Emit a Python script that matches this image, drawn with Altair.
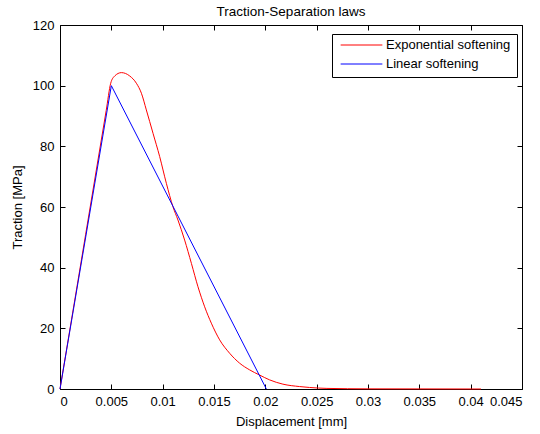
import altair as alt
import pandas as pd

# Data
lin_x = [0.0, 0.005, 0.0201]
lin_y = [0.0, 100.0, 0.0]

exp_x = [0.0, 0.0025, 0.0045, 0.00494, 0.00533, 0.00598, 0.00679, 0.00744, 0.00793,
         0.00841, 0.00906, 0.00971, 0.01036, 0.0110, 0.01149, 0.01214, 0.0128,
         0.01344, 0.01409, 0.01474, 0.01555, 0.01652, 0.0175, 0.01847, 0.01944,
         0.02042, 0.02171, 0.02334, 0.02431, 0.026, 0.03, 0.041]
exp_y = [0.0, 51.0, 91.8, 100.8, 103.2, 104.3, 103.2, 100.8, 97.5, 92.0, 84.3,
         76.6, 67.8, 60.1, 55.7, 49.1, 41.4, 33.7, 27.1, 21.7, 16.2, 11.8, 8.5,
         6.3, 4.6, 3.0, 1.6, 0.8, 0.5, 0.2, 0.05, 0.0]

series_names = ["Exponential softening", "Linear softening"]
series_colors = ["#ff0000", "#0000ff"]
x_ticks = [0, 0.005, 0.01, 0.015, 0.02, 0.025, 0.03, 0.035, 0.04, 0.045]
y_ticks = [0, 20, 40, 60, 80, 100, 120]

df_exp = pd.DataFrame({"x": exp_x, "y": exp_y, "s": series_names[0], "o": range(len(exp_x))})
df_lin = pd.DataFrame({"x": lin_x, "y": lin_y, "s": series_names[1], "o": range(len(lin_x))})

FONT = "Liberation Sans"

xscale = alt.Scale(domain=[0, 0.045], nice=False, zero=False)
yscale = alt.Scale(domain=[0, 120], nice=False, zero=False)
cscale = alt.Scale(domain=series_names, range=series_colors)

x_axis = alt.Axis(values=x_ticks, format="~g", title="Displacement [mm]", grid=False,
                  domain=False, offset=-5, tickSize=5, tickColor="black",
                  labelPadding=6, titlePadding=7, labelColor="black", titleColor="black")
y_axis = alt.Axis(values=y_ticks, title="Traction [MPa]", grid=False, domain=False,
                  offset=-5, tickSize=5, tickColor="black", labelPadding=6,
                  titlePadding=8, labelColor="black", titleColor="black")

legend = alt.Legend(title=None, orient="none", legendX=272, legendY=9,
                    symbolType="stroke", symbolSize=1740, symbolStrokeWidth=1,
                    symbolOffset=2, clipHeight=10, rowPadding=6,
                    strokeColor="black", fillColor="white", padding=6,
                    labelFontSize=13, labelFont=FONT, labelColor="black",
                    labelOffset=3, cornerRadius=0)

red = alt.Chart(df_exp).mark_line(strokeWidth=1, interpolate="monotone").encode(
    x=alt.X("x:Q", scale=xscale, axis=x_axis),
    y=alt.Y("y:Q", scale=yscale, axis=y_axis),
    color=alt.Color("s:N", scale=cscale, legend=legend),
    order="o:Q",
)
blue = alt.Chart(df_lin).mark_line(strokeWidth=1).encode(
    x=alt.X("x:Q", scale=xscale, axis=None),
    y=alt.Y("y:Q", scale=yscale, axis=None),
    color=alt.Color("s:N", scale=cscale, legend=legend),
    order="o:Q",
)
mirror = alt.Chart(df_lin).mark_line(opacity=0).encode(
    x=alt.X("x:Q", scale=xscale, axis=alt.Axis(orient="top", values=x_ticks, labels=False,
            title=None, grid=False, domain=False, offset=-5, tickSize=5,
            tickColor="black")),
    y=alt.Y("y:Q", scale=yscale, axis=alt.Axis(orient="right", values=y_ticks, labels=False,
            title=None, grid=False, domain=False, offset=-5, tickSize=5,
            tickColor="black")),
)

chart = alt.layer(red, blue, mirror).resolve_axis(x="independent", y="independent").properties(
    width=462, height=364,
    title=alt.TitleParams("Traction-Separation laws", fontSize=13.5, font=FONT,
                          fontWeight="normal", color="black", offset=1),
    autosize=alt.AutoSizeParams(type="none"),
    padding={"left": 60, "top": 25, "right": 18, "bottom": 45},
    background="white",
).configure_view(stroke="black", strokeWidth=1).configure_axis(
    labelFont=FONT, titleFont=FONT, labelFontSize=13, titleFontSize=13, titleFontWeight="normal"
)

chart.save("out.html", embed_options={"renderer": "svg", "actions": False})
